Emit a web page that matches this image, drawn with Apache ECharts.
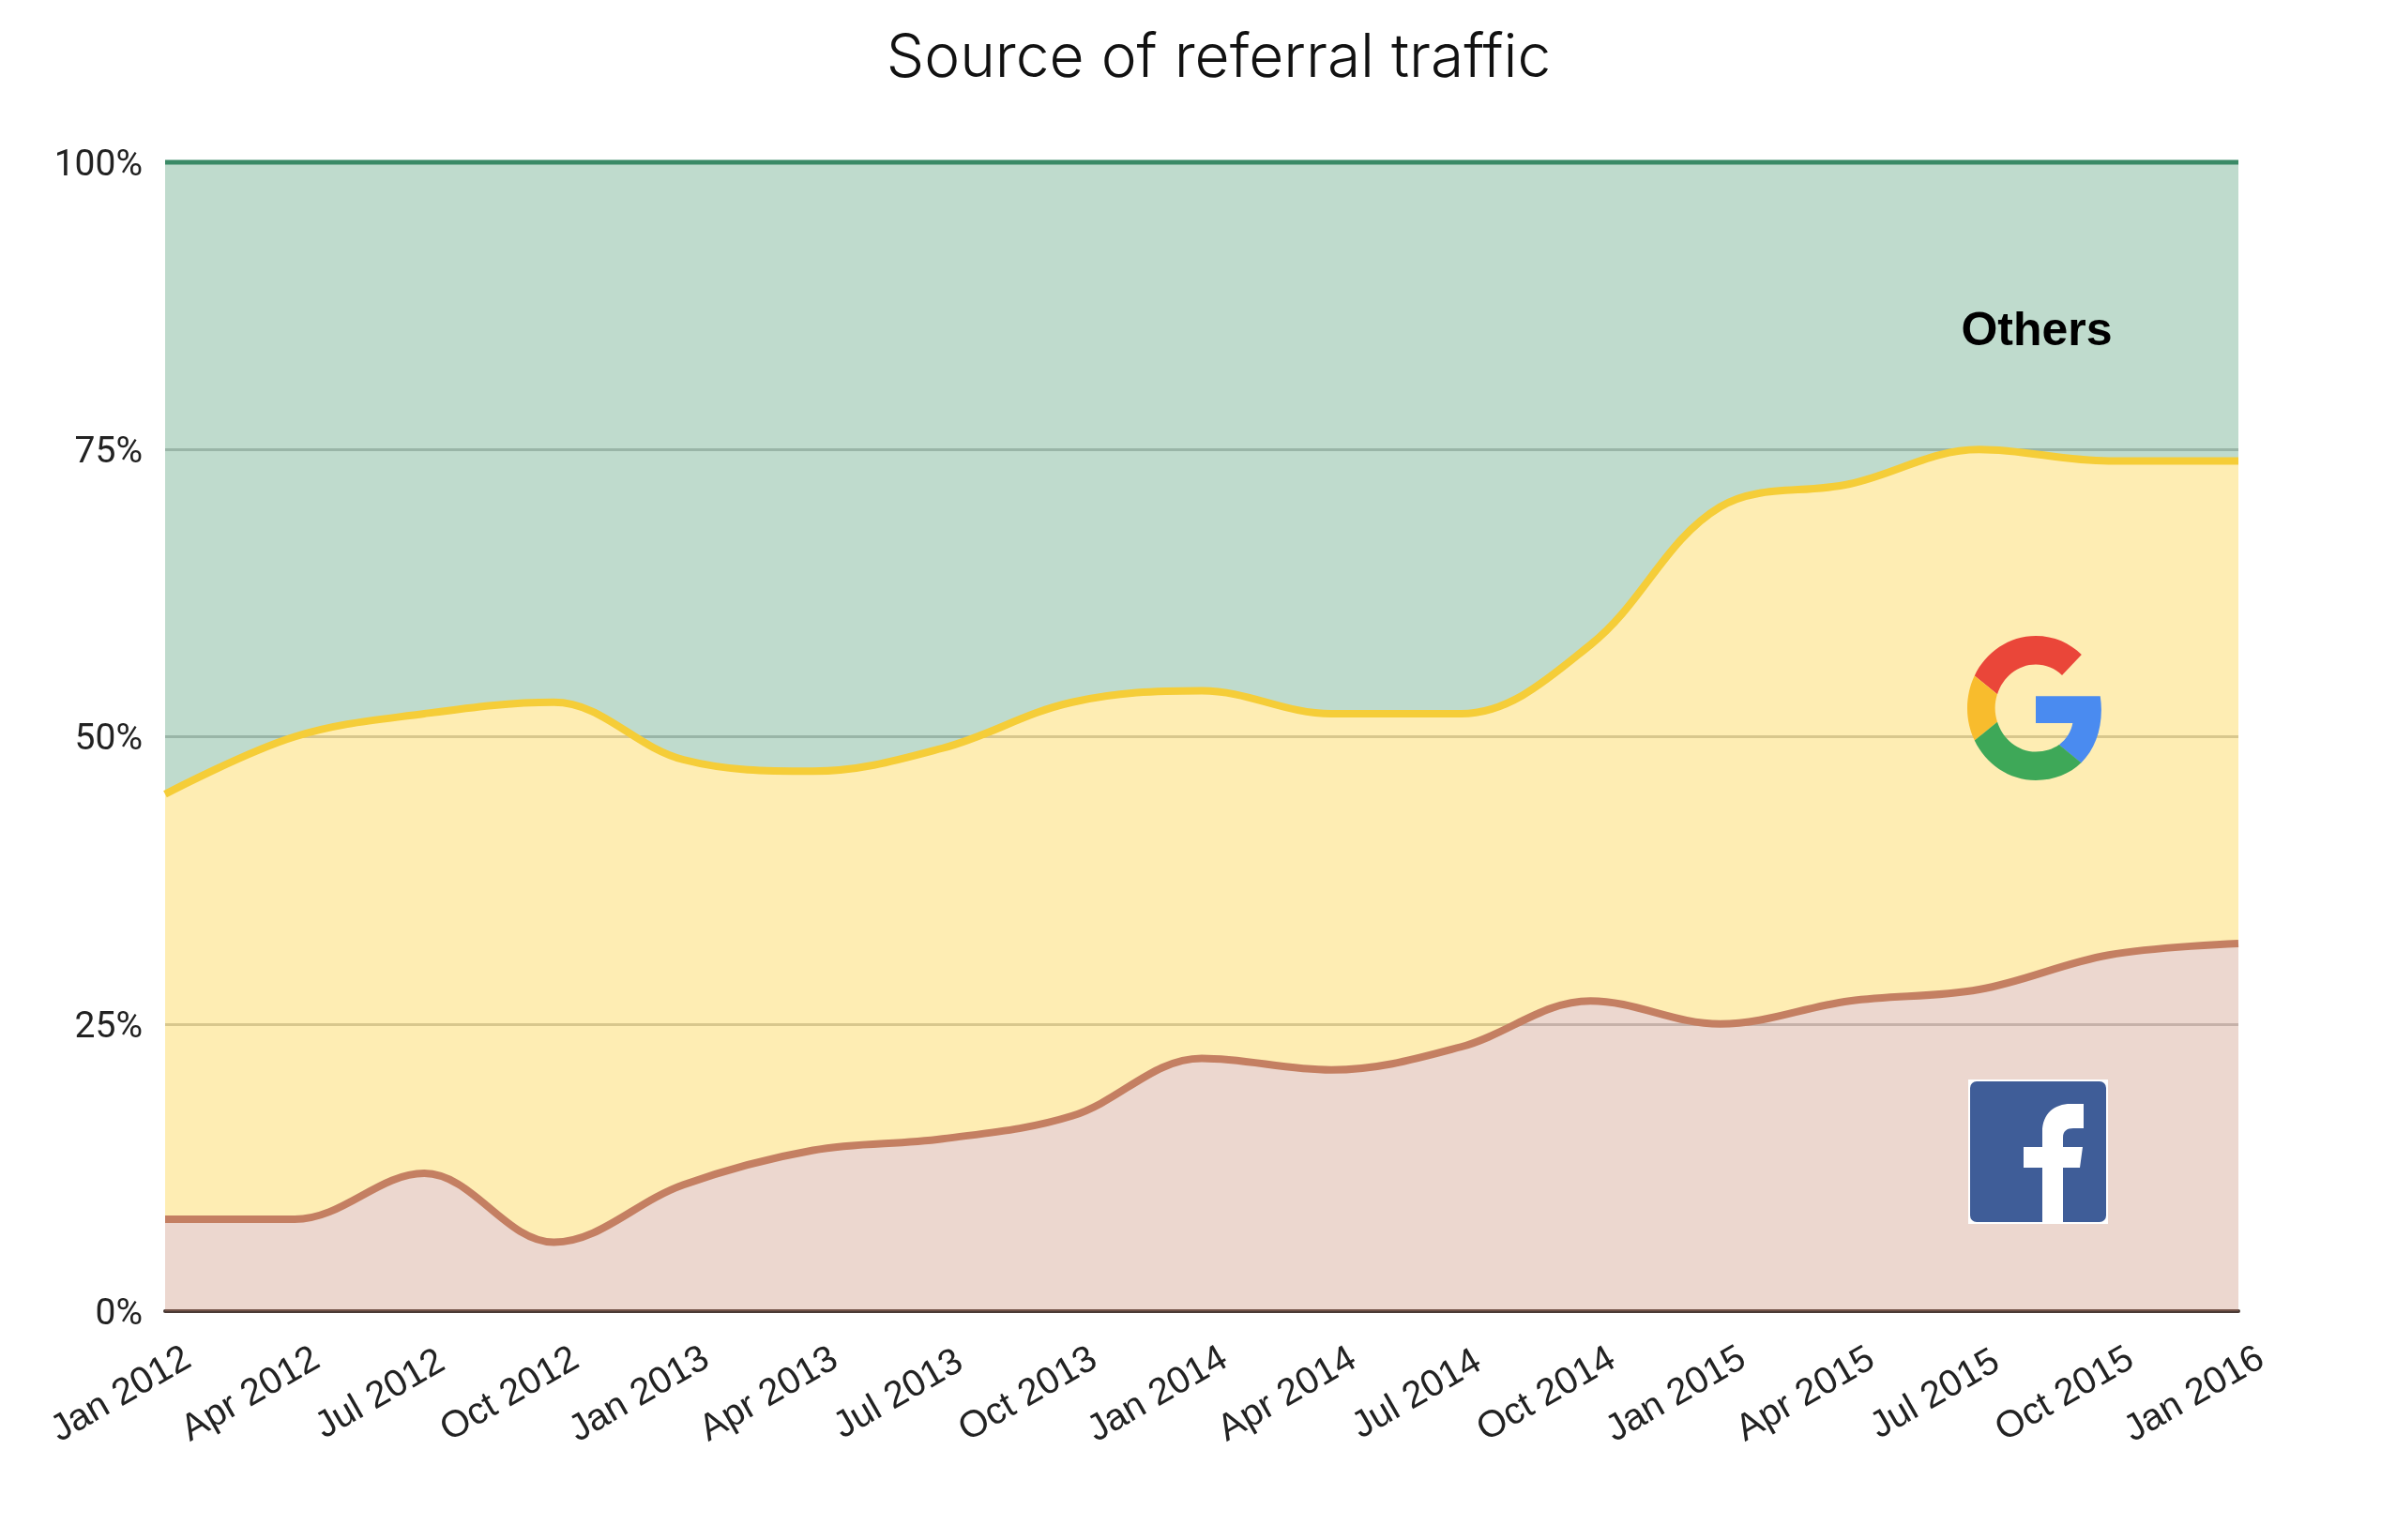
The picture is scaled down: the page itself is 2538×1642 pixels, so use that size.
<!DOCTYPE html>
<html><head><meta charset="utf-8">
<style>html,body{margin:0;padding:0;background:#fff}#c{width:2538px;height:1642px}</style>
<script src="https://cdn.jsdelivr.net/npm/echarts@6/dist/echarts.min.js"></script>
</head><body><div id="c"></div>
<script>
const categories = ['Jan 2012','Apr 2012','Jul 2012','Oct 2012','Jan 2013','Apr 2013','Jul 2013','Oct 2013','Jan 2014','Apr 2014','Jul 2014','Oct 2014','Jan 2015','Apr 2015','Jul 2015','Oct 2015','Jan 2016'];
const facebook = [8,8,12,6,11,14,15,17,22,21,23,27,25,27,28,31,32];
const google   = [37,42,40,47,37,33,34,36,32,31,29,31,45,45,47,43,42];
const others   = [55,50,48,47,52,53,51,47,46,48,48,42,30,28,25,26,26];

const chart = echarts.init(document.getElementById('c'), null, {renderer:'canvas', width:2538, height:1642});
function mk(name, data, color, lw){
  return {name, type:'line', stack:'share', data, smooth:0.36, showSymbol:false, symbol:'none', clip:false,
    lineStyle:{color:color.line, width:lw}, itemStyle:{color:color.line},
    areaStyle:{color:color.area, opacity:0.33}, z:2};
}
const gSvg = "<svg xmlns='http://www.w3.org/2000/svg' viewBox='0 0 48 48' preserveAspectRatio='none' width='292' height='308'>"
 + "<path fill='#EA4639' d='M24 9.5c3.54 0 6.71 1.22 9.21 3.6l6.85-6.85C35.9 2.38 30.47 0 24 0 14.62 0 6.51 5.38 2.56 13.22l7.98 6.19C12.43 13.72 17.74 9.5 24 9.5z'/>"
 + "<path fill='#4A8BF0' d='M46.98 24.55c0-1.57-.15-3.09-.38-4.55H24v9.02h12.94c-.58 2.96-2.26 5.48-4.78 7.18l7.73 6c4.51-4.18 7.09-10.36 7.09-17.65z'/>"
 + "<path fill='#F8BC2D' d='M10.53 28.59c-.5-1.45-.79-2.99-.79-4.59s.27-3.14.76-4.59l-7.98-6.19C.92 16.46 0 20.12 0 24c0 3.88.92 7.54 2.56 10.78l7.97-6.19z'/>"
 + "<path fill='#3EA858' d='M24 48c6.48 0 11.93-2.13 15.89-5.81l-7.73-6c-2.15 1.45-4.92 2.3-8.16 2.3-6.26 0-11.57-4.22-13.47-9.91l-7.98 6.19C6.51 42.62 14.62 48 24 48z'/></svg>";
const fSvg = "<svg xmlns='http://www.w3.org/2000/svg' viewBox='0 0 149 154' width='298' height='308'>"
 + "<rect width='149' height='154' fill='#fff'/><rect x='2' y='2' width='145' height='150' rx='7' fill='#3f5d98'/>"
 + "<path fill='#fff' d='M79 152V94H59V72H79V56C79 36 92 26 109 26H123V52H112C105 52 101 55 101 62V72H122L119 94H101V152Z'/></svg>";
const uri = s => 'data:image/svg+xml;charset=utf-8,' + encodeURIComponent(s);
chart.setOption({
  animation:false,
  backgroundColor:'#fff',
  title:{text:'Source of referral traffic', left:1294, top:26, textAlign:'center',
    textStyle:{fontFamily:'Inter', fontWeight:300, fontSize:64, color:'#111'}},
  grid:{left:176, right:152, top:173, bottom:244},
  xAxis:{type:'category', data:categories, boundaryGap:false,
    axisLine:{show:true, onZero:true, lineStyle:{color:'#4a3a35', width:4}}, axisTick:{show:false}, splitLine:{show:false},
    axisLabel:{interval:0, rotate:30, align:'center', verticalAlign:'middle', margin:62, padding:[0,108,0,0],
      fontFamily:'Liberation Sans', fontSize:40, color:'#222', hideOverlap:false, showMinLabel:true, showMaxLabel:true}},
  yAxis:{type:'value', min:0, max:100, interval:25,
    axisLine:{show:false}, axisTick:{show:false},
    splitLine:{show:true, lineStyle:{color:'#c6c6c6', width:3}},
    axisLabel:{formatter:'{a|{value}%}', margin:24, fontFamily:'Roboto', fontSize:39, color:'#222',
      rich:{a:{padding:[8,0,0,0], fontFamily:'Roboto', fontSize:39, color:'#222'}}}},
  series:[
    mk('Facebook', facebook, {line:'#c47f62', area:'#c6866e'}, 8),
    mk('Google', google, {line:'#f5cd38', area:'#fdc819'}, 8),
    mk('Others', others, {line:'#3a8a66', area:'#3d9268'}, 5)
  ],
  graphic:{elements:[
    {type:'text', z:100, style:{text:'Others', x:2171, y:354, align:'center', verticalAlign:'middle', font:'bold 50px "Liberation Sans"', fill:'#000'}},
    {type:'image', z:100, style:{image:uri(gSvg), x:2097, y:678, width:146, height:154}},
    {type:'image', z:100, style:{image:uri(fSvg), x:2098, y:1151, width:149, height:154}}
  ]}
});
</script></body></html>
